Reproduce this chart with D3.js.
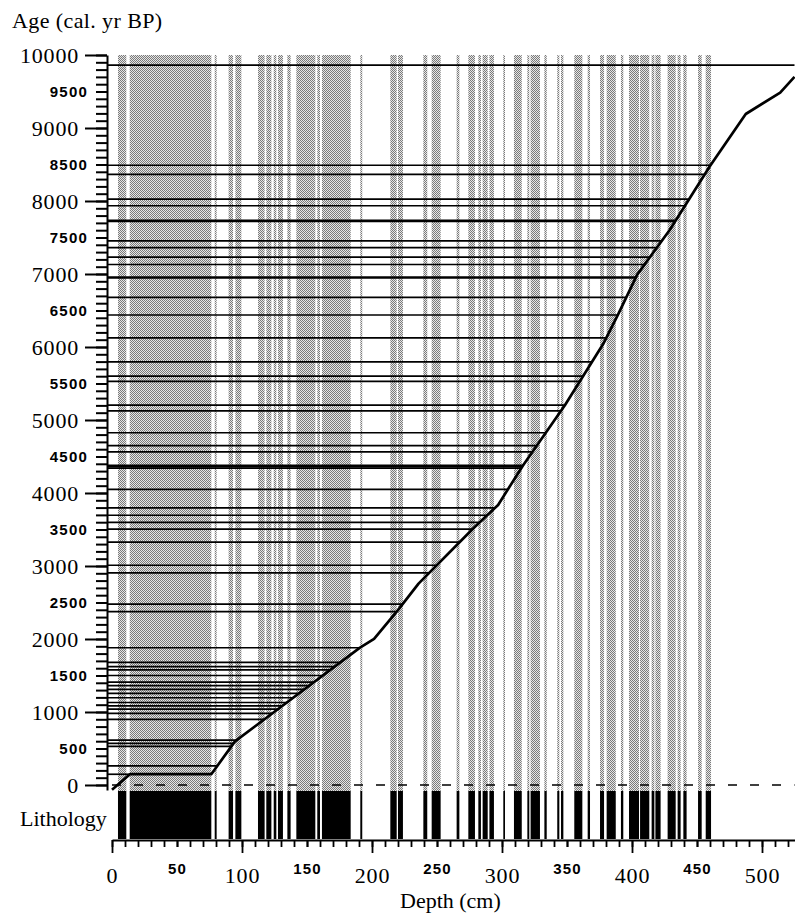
<!DOCTYPE html>
<html>
<head>
<meta charset="utf-8">
<script src="https://cdn.jsdelivr.net/npm/d3@7"></script>
<style>
  html, body { margin: 0; padding: 0; background: #fff; }
  svg { display: block; }
  .serif { font-family: "Liberation Serif", "Times New Roman", serif; }
  .sansb { font-family: "Liberation Sans", Arial, sans-serif; font-weight: bold; }
</style>
</head>
<body>
<svg id="chart" width="795" height="914"></svg>
<script>
// Age-depth model: dated tie points (depth in cm, age in cal. yr BP)
const modelDepth = [0, 14, 76.5, 94.6, 190.5, 201.6, 219.8, 235.8, 278, 297, 316, 348.5, 377.7, 389.5, 404, 429, 460, 487.5, 514, 525];
const modelAge   = [-65, 150, 150, 597, 1878, 2001, 2392, 2759, 3518, 3836, 4374, 5205, 6037, 6453, 6992, 7603, 8479, 9192, 9484, 9700];

// Ages of the sampled levels, projected onto the model
const levelAges = [
  9860, 8490, 8365, 8025, 7935, 7735, 7722, 7455, 7360, 7230, 7130, 6958, 6946,
  6680, 6438, 6125, 5797, 5600, 5528, 5205, 5125, 4825, 4650, 4563, 4380, 4362,
  4342, 4050, 3795, 3695, 3597, 3505, 3328, 3010, 2905, 2477, 2376, 1880, 1680,
  1622, 1578, 1500, 1410, 1360, 1310, 1255, 1195, 1130, 1085, 1040, 980, 900,
  615, 570, 528, 262, 147
];

// Event layers in the lithology column (top, bottom depth in cm)
const layerTop    = [4.6, 13.6, 79, 89.7, 94.9, 112.3, 118.7, 124.4, 127.7, 134.9, 141.8, 157.9, 161.5, 191, 214.1, 220, 239.5, 245.9, 265.1, 274.1, 281.8, 285.1, 290.3, 301, 309.2, 319.5, 322, 332.6, 342.5, 345.4, 355.6, 365.9, 375.4, 380.5, 391.5, 397.7, 406.2, 415.1, 418, 427.4, 435.1, 439.5, 450.8, 456.7];
const layerBottom = [11, 76.4, 80.5, 93.1, 99.5, 117.4, 122.6, 126.4, 131.5, 137.4, 156.4, 160, 183.6, 192.5, 219, 223.8, 242.5, 252.8, 267.2, 279.2, 283.8, 289, 293.8, 302.3, 315.2, 321, 329.2, 334.4, 344.1, 347.2, 361.8, 367.7, 378.5, 387.5, 393.3, 405.4, 413.3, 417.2, 422, 433.6, 437.4, 442, 453.6, 460.8];

// Axis tick values
const ageMajor = [0, 1000, 2000, 3000, 4000, 5000, 6000, 7000, 8000, 9000, 10000];
const ageHalf  = [500, 1500, 2500, 3500, 4500, 5500, 6500, 7500, 8500, 9500];
const ageMinor = d3.range(0, 10001, 100);
const depthMajor = [0, 100, 200, 300, 400, 500];
const depthHalf  = [50, 150, 250, 350, 450];
const depthMinor = d3.range(0, 521, 10);

const svg = d3.select("#chart");

// halftone fill for the event layers
const pat = svg.append("defs").append("pattern")
  .attr("id", "halftone")
  .attr("patternUnits", "userSpaceOnUse")
  .attr("width", 2).attr("height", 2);
pat.append("rect").attr("width", 2).attr("height", 2).attr("fill", "#e6e6e6");
pat.append("rect").attr("x", 0).attr("y", 0).attr("width", 1).attr("height", 1).attr("fill", "#7a7a7a");
pat.append("rect").attr("x", 1).attr("y", 1).attr("width", 1).attr("height", 1).attr("fill", "#7a7a7a");

const x = d3.scaleLinear().domain([0, 525]).range([112, 794.5]);
const y = d3.scaleLinear().domain([-70, 10000]).range([790.1, 55]);

const axisX0 = 107;   // position of the age axis
const stripTop = 791, stripBottom = 839, baseY = 840;

// depth reached by the model at a given age (first crossing, clamped)
function depthAt(age) {
  if (age <= modelAge[0]) return modelDepth[0];
  for (let i = 1; i < modelAge.length; i++) {
    if (age <= modelAge[i]) {
      const a0 = modelAge[i - 1], a1 = modelAge[i];
      const t = a1 === a0 ? 0 : (age - a0) / (a1 - a0);
      return modelDepth[i - 1] + t * (modelDepth[i] - modelDepth[i - 1]);
    }
  }
  return x.domain()[1];
}

const layers = layerTop.map((t, i) => ({ top: t, bottom: layerBottom[i] }));

// shaded event layers through the age panel
svg.append("g")
  .selectAll("rect")
  .data(layers)
  .join("rect")
  .attr("x", d => x(d.top))
  .attr("width", d => Math.max(1, x(d.bottom) - x(d.top)))
  .attr("y", y(10000))
  .attr("height", stripTop - y(10000))
  .attr("fill", "url(#halftone)");

// lithology column
svg.append("g")
  .selectAll("rect")
  .data(layers)
  .join("rect")
  .attr("x", d => x(d.top))
  .attr("width", d => Math.max(1, x(d.bottom) - x(d.top)))
  .attr("y", stripTop)
  .attr("height", stripBottom - stripTop)
  .attr("fill", "#000");

// zero-age reference line
svg.append("line")
  .attr("x1", x(0)).attr("x2", x(525))
  .attr("y1", y(0)).attr("y2", y(0))
  .attr("stroke", "#000").attr("stroke-width", 1.5)
  .attr("stroke-dasharray", "9,13");

// sampled levels projected to the model
svg.append("g")
  .selectAll("line")
  .data(levelAges)
  .join("line")
  .attr("x1", axisX0)
  .attr("x2", d => x(depthAt(d)))
  .attr("y1", d => y(d))
  .attr("y2", d => y(d))
  .attr("stroke", "#000")
  .attr("stroke-width", 1.7);

// age-depth curve
svg.append("path")
  .datum(modelDepth.map((d, i) => [d, modelAge[i]]))
  .attr("fill", "none")
  .attr("stroke", "#000")
  .attr("stroke-width", 2.7)
  .attr("stroke-linejoin", "round")
  .attr("d", d3.line().x(d => x(d[0])).y(d => y(d[1])));

// ---- age axis ----
const gy = svg.append("g").attr("transform", `translate(${axisX0},0)`);
gy.append("g")
  .call(d3.axisLeft(y).tickValues(ageMinor).tickSize(11).tickSizeOuter(0).tickFormat(""))
  .call(g => g.selectAll("line,path").attr("stroke", "#000").attr("stroke-width", 2));
gy.append("g")
  .call(d3.axisLeft(y).tickValues(ageHalf).tickSize(11).tickSizeOuter(0).tickPadding(8).tickFormat(d3.format("d")))
  .call(g => g.select(".domain").remove())
  .call(g => g.selectAll("line").attr("stroke", "#000").attr("stroke-width", 2))
  .call(g => g.selectAll("text").attr("class", "sansb").attr("font-size", 15)
    .attr("letter-spacing", "1.2px").attr("fill", "#000").attr("font-family", null));
gy.append("g")
  .call(d3.axisLeft(y).tickValues(ageMajor).tickSize(22).tickSizeOuter(0).tickPadding(6).tickFormat(d3.format("d")))
  .call(g => g.select(".domain").remove())
  .call(g => g.selectAll("line").attr("stroke", "#000").attr("stroke-width", 2))
  .call(g => g.selectAll("text").attr("class", "serif").attr("font-size", 22)
    .attr("letter-spacing", "0.8px").attr("fill", "#000").attr("font-family", null));

// ---- depth axis ----
const gx = svg.append("g").attr("transform", `translate(0,${baseY})`);
gx.append("g")
  .call(d3.axisBottom(x).tickValues(depthMinor).tickSize(7).tickSizeOuter(0).tickFormat(""))
  .call(g => g.selectAll("line,path").attr("stroke", "#000").attr("stroke-width", 1.8));
gx.append("g")
  .call(d3.axisBottom(x).tickValues(depthHalf).tickSize(7).tickSizeOuter(0).tickPadding(16).tickFormat(d3.format("d")))
  .call(g => g.select(".domain").remove())
  .call(g => g.selectAll("line").attr("stroke", "#000").attr("stroke-width", 1.8))
  .call(g => g.selectAll("text").attr("class", "sansb").attr("font-size", 15)
    .attr("letter-spacing", "1.2px").attr("fill", "#000").attr("font-family", null));
gx.append("g")
  .call(d3.axisBottom(x).tickValues(depthMajor).tickSize(13).tickSizeOuter(0).tickPadding(14).tickFormat(d3.format("d")))
  .call(g => g.select(".domain").remove())
  .call(g => g.selectAll("line").attr("stroke", "#000").attr("stroke-width", 1.8))
  .call(g => g.selectAll("text").attr("class", "serif").attr("font-size", 22)
    .attr("letter-spacing", "0.8px").attr("fill", "#000").attr("font-family", null));

// ---- titles ----
svg.append("text").attr("class", "serif")
  .attr("x", 12).attr("y", 28).attr("font-size", 22).attr("letter-spacing", "0.4px")
  .text("Age (cal. yr BP)");
svg.append("text").attr("class", "serif")
  .attr("x", 20).attr("y", 826).attr("font-size", 22)
  .text("Lithology");
svg.append("text").attr("class", "serif")
  .attr("x", 400).attr("y", 908).attr("font-size", 22)
  .text("Depth (cm)");
</script>
</body>
</html>
